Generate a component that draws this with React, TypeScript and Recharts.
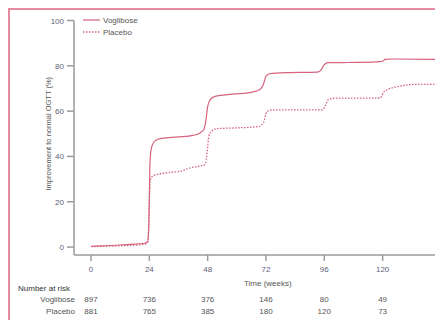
import React from 'react';
import { LineChart, Line, XAxis, YAxis, Legend, Label } from 'recharts';

const weekTicks = [0, 24, 48, 72, 96, 120, 144];
const yTicks = [0, 20, 40, 60, 80, 100];
const riskVoglibose = [897, 736, 376, 146, 80, 49, 29];
const riskPlacebo = [881, 765, 385, 180, 120, 73, 37];

const vogWeeks = [0, 4, 10, 16, 22, 23.3, 23.8, 24.2, 24.6, 25.2, 26.5, 29, 36, 42, 45, 46.5, 47.3, 48, 49, 51, 58, 66, 69.5, 71, 72, 73.5, 80, 93, 94.5, 96, 97.5, 110, 117, 120, 121, 124, 152];
const vogValues = [0.3, 0.5, 0.8, 1.2, 1.7, 2.2, 10, 35, 42, 45, 47, 48, 48.6, 49.3, 50.5, 52, 56, 62, 65, 66.5, 67.5, 68.3, 69.5, 72, 75.5, 76.5, 77, 77.2, 78, 80.5, 81.4, 81.5, 81.7, 82, 82.8, 83, 82.8];

const plaWeeks = [0, 10, 20, 23, 23.6, 24, 24.4, 25, 27, 33, 37, 41, 45, 47, 47.8, 48.5, 49.5, 52, 60, 69, 71, 72.3, 74, 95, 96.5, 97.5, 100, 119, 120.5, 122, 126, 134, 152];
const plaValues = [0.2, 0.5, 1.0, 1.5, 5, 20, 29, 31, 32, 33, 33.5, 35, 35.8, 36.5, 42, 49, 51, 52.3, 52.6, 53.2, 55, 59.6, 60.5, 60.6, 62.5, 65, 65.7, 65.8, 68.5, 69.5, 70.8, 71.8, 71.8];

const vogData = vogWeeks.map((w, i) => ({ week: w, value: vogValues[i] }));
const plaData = plaWeeks.map((w, i) => ({ week: w, value: plaValues[i] }));

const LINE = '#d4637d';
const AXIS = '#9a9a9a';
const TICK = '#5e5e78';
const TEXT = '#555';
const FONT = '"Liberation Sans", Arial, sans-serif';

const XTick = (props: any) => {
  const { x, y, payload } = props;
  const i = weekTicks.indexOf(payload.value);
  return (
    <g fontFamily={FONT} fontSize={8}>
      <text x={x} y={y + 9} textAnchor="middle" fill={TICK}>{payload.value}</text>
      <text x={x} y={y + 39} textAnchor="middle" fill={TEXT}>{riskVoglibose[i]}</text>
      <text x={x} y={y + 51} textAnchor="middle" fill={TEXT}>{riskPlacebo[i]}</text>
      {i === 0 && (
        <g>
          <text x={x - 73} y={y + 27.5} fill="#333">Number at risk</text>
          <text x={x - 16} y={y + 39} textAnchor="end" fill={TEXT}>Voglibose</text>
          <text x={x - 16} y={y + 51} textAnchor="end" fill={TEXT}>Placebo</text>
        </g>
      )}
    </g>
  );
};

const YTick = (props: any) => {
  const { x, y, payload } = props;
  return (
    <text x={x} y={y + 3} textAnchor="end" fill={TICK} fontFamily={FONT} fontSize={8}>{payload.value}</text>
  );
};

const renderYLabel = (p: any) => {
  const vb = p.viewBox;
  const cx = vb.x + 41;
  const cy = vb.y + vb.height / 2 - 4;
  return (
    <text x={cx} y={cy} transform={`rotate(-90 ${cx} ${cy})`} textAnchor="middle" fill={TEXT} fontFamily={FONT} fontSize={7.5}>
      Improvement to normal OGTT (%)
    </text>
  );
};

const renderXLabel = (p: any) => {
  const vb = p.viewBox;
  return (
    <text x={vb.x + vb.width / 2} y={vb.y + 31} textAnchor="middle" fill={TEXT} fontFamily={FONT} fontSize={8}>
      Time (weeks)
    </text>
  );
};

const renderLegend = () => (
  <svg width={80} height={28} style={{ display: 'block' }}>
    <line x1={0} y1={6} x2={17} y2={6} stroke={LINE} strokeWidth={1.2} />
    <text x={20} y={9} fill={TEXT} fontFamily={FONT} fontSize={8}>Voglibose</text>
    <line x1={0} y1={18} x2={17} y2={18} stroke={LINE} strokeWidth={1.3} strokeDasharray="1.5 1.5" />
    <text x={20} y={21} fill={TEXT} fontFamily={FONT} fontSize={8}>Placebo</text>
  </svg>
);

export default function App() {
  return (
    <div
      style={{
        position: 'relative',
        width: 433,
        height: 310,
        overflow: 'hidden',
        borderTop: '2px solid #e58aa0',
        borderLeft: '2px solid #e58aa0',
      }}
    >
      <LineChart width={470} height={320} margin={{ top: 10.5, right: 18.4, left: 0, bottom: 0 }}>
        <XAxis
          dataKey="week"
          type="number"
          domain={[-7, 152.5]}
          ticks={weekTicks}
          allowDataOverflow
          height={75}
          stroke={AXIS}
          strokeWidth={1.5}
          tickSize={6}
          tick={<XTick />}
          tickLine={{ stroke: AXIS }}
        >
          <Label content={renderXLabel} />
        </XAxis>
        <YAxis
          type="number"
          domain={[-3.5, 100]}
          ticks={yTicks}
          allowDataOverflow
          width={64}
          stroke={AXIS}
          strokeWidth={1.5}
          tickSize={7}
          tickMargin={3}
          tick={<YTick />}
          tickLine={{ stroke: AXIS }}
        >
          <Label content={renderYLabel} />
        </YAxis>
        <Legend
          content={renderLegend}
          layout="horizontal"
          verticalAlign="middle"
          align="center"
          wrapperStyle={{ position: 'absolute', left: 73, top: 4, width: 80, height: 28 }}
        />
        <Line data={vogData} dataKey="value" name="Voglibose" type="monotone" stroke={LINE} strokeWidth={1.2} dot={false} isAnimationActive={false} />
        <Line data={plaData} dataKey="value" name="Placebo" type="monotone" stroke={LINE} strokeWidth={1.3} strokeDasharray="1.5 1.5" dot={false} isAnimationActive={false} />
      </LineChart>
    </div>
  );
}
